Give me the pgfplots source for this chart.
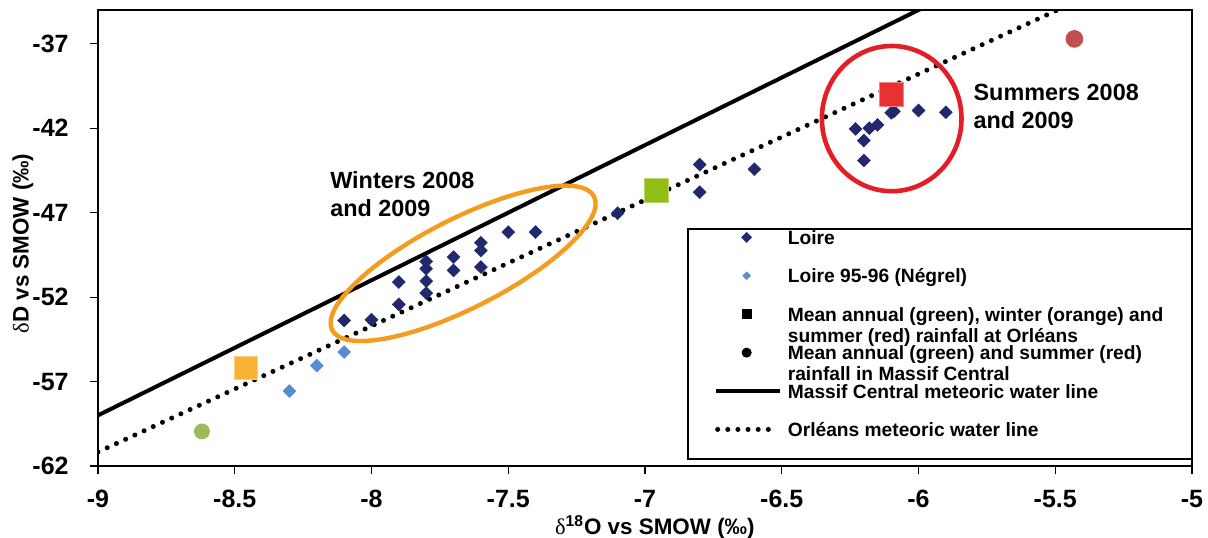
\documentclass[border=0pt]{standalone}
\usepackage{fontspec}
\setmainfont{Liberation Sans}
\newfontfamily\sd{Liberation Serif}
\usepackage{pgfplots}
\pgfplotsset{compat=1.18}
\definecolor{navy}{RGB}{32,40,110}
\definecolor{lightblue}{RGB}{84,141,212}
\definecolor{orangeSq}{RGB}{249,178,51}
\definecolor{greenSq}{RGB}{145,190,20}
\definecolor{greenCi}{RGB}{155,187,89}
\definecolor{redSq}{RGB}{232,50,50}
\definecolor{redCi}{RGB}{192,80,77}
\definecolor{orangeE}{RGB}{243,156,30}
\definecolor{redE}{RGB}{228,30,38}
\begin{document}
\begin{tikzpicture}
\useasboundingbox (-49pt,-35.5pt) rectangle (555pt,233pt);
\begin{axis}[
  at={(0pt,0pt)}, anchor=south west,
  width=547pt, height=228pt, scale only axis,
  xmin=-9, xmax=-5, ymin=-62, ymax=-35,
  xtick={-9,-8.5,-8,-7.5,-7,-6.5,-6,-5.5,-5},
  xticklabels={-9,-8.5,-8,-7.5,-7,-6.5,-6,-5.5,-5},
  ytick={-62,-57,-52,-47,-42,-37},
  yticklabels={-62,-57,-52,-47,-42,-37},
  tick pos=left, tick align=outside, major tick length=4pt,
  tick style={black, line width=0.6pt},
  axis line style={line width=1.3pt},
  /pgf/number format/assume math mode=true,
  tick label style={font=\fontsize{12.5}{15}\selectfont\bfseries},
  xticklabel style={anchor=north, inner sep=0pt, yshift=-8pt},
  yticklabel style={anchor=east, inner sep=0pt, xshift=-10.5pt},
  xlabel={{\sd\mdseries δ}\textsuperscript{\bfseries 18}O vs SMOW (‰)},
  ylabel={{\sd\mdseries δ}D vs SMOW (‰)},
  every axis x label/.style={at={(axis description cs:0.509,-0.134)}, anchor=center, font=\fontsize{11.2}{13}\selectfont\bfseries},
  every axis y label/.style={at={(axis description cs:-0.0686,0.488)}, rotate=90, anchor=center, font=\fontsize{11.2}{13}\selectfont\bfseries},
  legend style={at={(rel axis cs:0.5622,0.5175)}, anchor=north west, draw=none, fill=none,
    inner sep=0pt, row sep=12.2pt, column sep=3pt,
    font=\fontsize{9.6}{11}\selectfont\bfseries,
    nodes={inner sep=0pt, text height=7pt, text depth=0pt}},
  legend cell align=left,
]
% legend frame
\draw[line width=1.2pt, fill=white] (rel axis cs:0.5393,0.0154) rectangle (rel axis cs:1,0.5197);

% Loire
\addplot[only marks, mark=square*, mark size=2.3pt, mark options={rotate=45, fill=navy, draw=navy, line width=0.2pt}, forget plot] coordinates {
(-8.1,-53.38) (-8.0,-53.34) (-7.9,-52.43) (-7.9,-51.11)
(-7.8,-51.76) (-7.8,-51.05) (-7.8,-50.32) (-7.8,-49.89)
(-7.7,-50.42) (-7.7,-49.63) (-7.6,-50.22) (-7.6,-49.24) (-7.6,-48.78)
(-7.5,-48.15) (-7.4,-48.15) (-7.1,-47.03)
(-6.8,-44.15) (-6.8,-45.79) (-6.6,-44.43)
(-6.23,-42.04) (-6.2,-42.73) (-6.2,-43.91) (-6.18,-42.0) (-6.15,-41.8)
(-6.1,-41.09) (-6.09,-41.0) (-6.0,-40.95) (-5.9,-41.05)
};
% Loire 95-96 (Negrel)
\addplot[only marks, mark=square*, mark size=2.3pt, mark options={rotate=45, fill=lightblue, draw=lightblue, line width=0.2pt}, forget plot] coordinates {
(-8.3,-57.56) (-8.2,-56.06) (-8.1,-55.25)
};
% Orleans rainfall means
\addplot[only marks, mark=square*, mark size=5.75pt, mark options={fill=orangeSq, draw=orangeSq!60!white, line width=0.4pt}, forget plot] coordinates {(-8.46,-56.2)};
\addplot[only marks, mark=square*, mark size=6pt, mark options={fill=greenSq, draw=greenSq!60!white, line width=0.4pt}, forget plot] coordinates {(-6.96,-45.69)};
\addplot[only marks, mark=square*, mark size=6pt, mark options={fill=redSq, draw=redSq!60!white, line width=0.4pt}, forget plot] coordinates {(-6.1,-40.01)};
% Massif Central rainfall means
\addplot[only marks, mark=*, mark size=3.75pt, mark options={fill=greenCi, draw=greenCi}, forget plot] coordinates {(-8.62,-59.95)};
\addplot[only marks, mark=*, mark size=4.2pt, mark options={fill=redCi, draw=redCi}, forget plot] coordinates {(-5.43,-36.71)};
% meteoric water lines
\addplot[black, line width=2pt, forget plot] coordinates {(-9,-59) (-5,-27)};
\addplot[black, line width=2.5pt, line cap=round, dash pattern=on 0pt off 5.07pt, forget plot] coordinates {(-9,-61.17) (-5,-31.33)};

% annotations
\draw[orangeE, line width=2.2pt, rotate around={27:(axis cs:-7.665,-50.0)}] (axis cs:-7.665,-50.0) ellipse [x radius=73.5pt, y radius=22.3pt];
\draw[redE, line width=2.3pt] (axis cs:-6.098,-41.43) ellipse [x radius=34.9pt, y radius=36.3pt];
\node[anchor=north west, inner sep=0pt, align=left, font=\fontsize{11.7}{14}\selectfont\bfseries] at (axis cs:-8.152,-44.54) {Winters 2008\\and 2009};
\node[anchor=north west, inner sep=0pt, align=left, font=\fontsize{11.7}{14}\selectfont\bfseries] at (axis cs:-5.80,-39.36) {Summers 2008\\and 2009};

% legend
\addlegendimage{legend image code/.code={\draw[navy, fill=navy, line width=0.2pt] plot[mark=square*, mark size=1.8pt, mark options={rotate=45}, only marks] coordinates {(15.5pt,0pt)};}}
\addlegendentry{Loire}
\addlegendimage{legend image code/.code={\draw[lightblue, fill=lightblue, line width=0.2pt] plot[mark=square*, mark size=1.4pt, mark options={rotate=45}, only marks] coordinates {(15.5pt,0pt)};}}
\addlegendentry{Loire 95-96 (Négrel)}
\addlegendimage{legend image code/.code={\draw[black, fill=black] plot[mark=square*, mark size=2.3pt, only marks] coordinates {(15.5pt,0pt)};}}
\addlegendentry{\vtop{\baselineskip=10.5pt\hbox{Mean annual (green), winter (orange) and}\hbox{summer (red) rainfall at Orléans}}}
\addlegendimage{legend image code/.code={\draw[black, fill=black] plot[mark=*, mark size=2.3pt, only marks] coordinates {(15.5pt,0pt)};}}
\addlegendentry{\vtop{\baselineskip=10.5pt\hbox{Mean annual (green) and summer (red)}\hbox{rainfall in Massif Central}}}
\addlegendimage{legend image code/.code={\draw[black, line width=2.2pt] (0pt,0pt) -- (32pt,0pt);}}
\addlegendentry{Massif Central meteoric water line}
\addlegendimage{legend image code/.code={\draw[black, line width=2.5pt, line cap=round, dash pattern=on 0pt off 5.07pt] (1pt,0pt) -- (28pt,0pt);}}
\addlegendentry{Orléans meteoric water line}
\end{axis}
\end{tikzpicture}
\end{document}
